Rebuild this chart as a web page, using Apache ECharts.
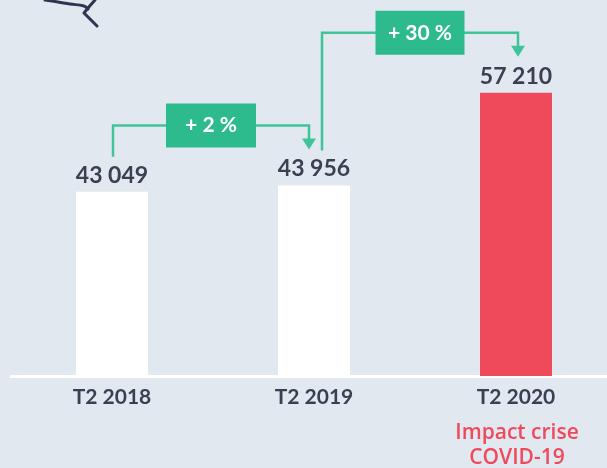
<!DOCTYPE html>
<html>
<head>
<meta charset="utf-8">
<script src="https://cdn.jsdelivr.net/npm/echarts@6/dist/echarts.min.js"></script>
<style>
  html, body { margin: 0; padding: 0; background: #e2e8f0; overflow: hidden; }
  #chart { width: 620px; height: 468px; }
</style>
</head>
<body>
<div id="chart"></div>
<script>
// données du graphique
const categories = ['T2 2018', 'T2 2019', 'T2 2020'];
const values = [43049, 43956, 57210];
const growthLabels = ['+ 2 %', '+ 30 %'];
const noteLines = ['Impact crise', 'COVID-19'];

const RED = '#ee4a5b';
const GREEN = '#2dbb8e';
const DARK = '#3b3f52';
const FONT = 'Lato, "Open Sans", sans-serif';

const fmt = v => String(v).replace(/\B(?=(\d{3})+(?!\d))/g, ' ');

const chart = echarts.init(document.getElementById('chart'));

chart.setOption({
    backgroundColor: '#e2e8f0',
    animation: false,
    // le conteneur dépasse un peu à droite pour garder l'écart des barres
    grid: { left: 11, right: 3, top: 0, bottom: 92 },
    xAxis: {
        type: 'category',
        data: categories,
        axisLine: { lineStyle: { color: '#ffffff', width: 3 } },
        axisTick: { show: false },
        axisLabel: {
            margin: 11,
            fontSize: 21,
            fontWeight: 'bold',
            fontFamily: FONT,
            color: DARK
        }
    },
    yAxis: {
        type: 'value',
        min: 16700,
        max: 70490,
        show: false,
        splitLine: { show: false }
    },
    series: [{
        type: 'bar',
        barWidth: 72,
        data: values.map((v, i) => ({
            value: v,
            itemStyle: { color: i === 2 ? RED : '#ffffff' }
        })),
        label: {
            show: true,
            position: 'top',
            distance: 5,
            fontSize: 23,
            fontWeight: 'bold',
            fontFamily: FONT,
            color: DARK,
            formatter: p => fmt(p.value)
        }
    }]
});

// flèches et pastilles de variation, calées sur les barres
function buildGraphics() {
    const pts = values.map((v, i) => chart.convertToPixel({ seriesIndex: 0 }, [i, v]));
    const els = [];
    const offsets = [[1, -5], [8, 2]];

    for (let k = 0; k < 2; k++) {
        const a = pts[k], b = pts[k + 1];
        const x1 = a[0] + offsets[k][0];
        const x2 = b[0] + offsets[k][1];
        const yStart = a[1] - 35;
        const yTip = b[1] - 36;
        const level = Math.min(a[1], b[1]) - 60;

        els.push({
            type: 'polyline',
            shape: { points: [[x1, yStart], [x1, level], [x2, level], [x2, yTip - 9]] },
            style: { stroke: '#3fc497', lineWidth: 2.5, fill: null }
        });
        els.push({
            type: 'polygon',
            shape: { points: [[x2 - 7, yTip - 11], [x2 + 7, yTip - 11], [x2, yTip]] },
            style: { fill: '#3fc497' }
        });
        const cx = (x1 + x2) / 2;
        const w = k === 0 ? 90 : 89;
        els.push({
            type: 'rect',
            shape: { x: cx - w / 2, y: level - 22, width: w, height: 44 },
            style: { fill: GREEN }
        });
        els.push({
            type: 'text',
            x: cx, y: level,
            style: {
                text: growthLabels[k],
                fill: '#ffffff',
                font: 'bold 21px ' + FONT,
                align: 'center',
                verticalAlign: 'middle'
            }
        });
    }

    // note sous T2 2020
    const base = chart.convertToPixel({ seriesIndex: 0 }, [2, 16700]);
    noteLines.forEach((t, j) => {
        els.push({
            type: 'text',
            x: base[0] + 1, y: base[1] + 57 + j * 25,
            style: {
                text: t,
                fill: RED,
                font: '600 21px "Open Sans", sans-serif',
                align: 'center',
                verticalAlign: 'middle'
            }
        });
    });

    // petit dessin en haut à gauche
    els.push({
        type: 'polyline',
        shape: { points: [[45, 0], [58, 2], [70, 4], [84, 6], [88, 9]], smooth: 0.4 },
        style: { stroke: '#2f3550', lineWidth: 3, fill: null, lineCap: 'round' }
    });
    els.push({
        type: 'polyline',
        shape: { points: [[95, 0], [88, 8], [84, 13], [97, 26]] },
        style: { stroke: '#2f3550', lineWidth: 3, fill: null, lineCap: 'round', lineJoin: 'round' }
    });

    chart.setOption({ graphic: els });
}

buildGraphics();
</script>
</body>
</html>
